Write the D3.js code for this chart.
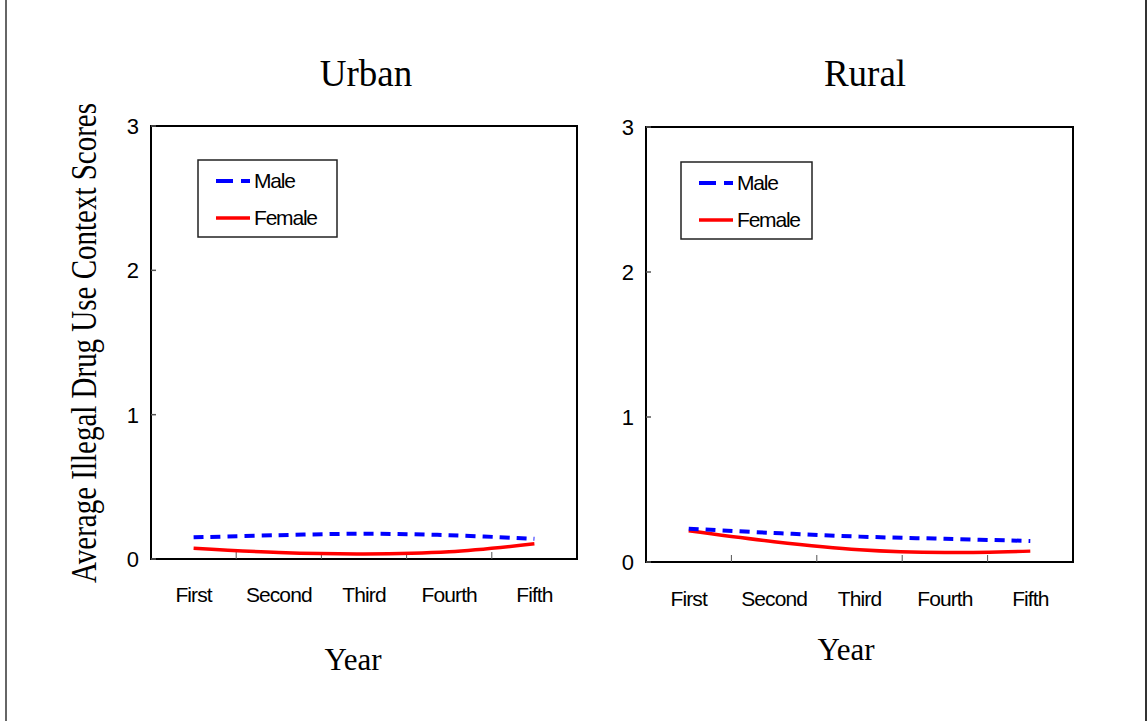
<!DOCTYPE html>
<html>
<head>
<meta charset="utf-8">
<script src="https://cdn.jsdelivr.net/npm/d3@7"></script>
<style>
  body { margin: 0; background: #fff; }
  svg { display: block; }
  .tick-label { font-family: "Liberation Sans", Arial, sans-serif; font-size: 22px; fill: #000; }
  .cat-label { font-family: "Liberation Sans", Arial, sans-serif; font-size: 21px; letter-spacing: -0.9px; fill: #000; }
  .serif { font-family: "Liberation Serif", "Times New Roman", serif; fill: #000; }
  .legend-text { font-family: "Liberation Sans", Arial, sans-serif; font-size: 21px; letter-spacing: -1.2px; fill: #000; }
</style>
</head>
<body>
<script>
// chart data
var years = ['First', 'Second', 'Third', 'Fourth', 'Fifth'];
var yTicks = [0, 1, 2, 3];
var urbanMale = [0.15, 0.165, 0.175, 0.165, 0.14];
var urbanFemale = [0.075, 0.045, 0.035, 0.05, 0.105];
var ruralMale = [0.23, 0.2, 0.175, 0.16, 0.145];
var ruralFemale = [0.215, 0.14, 0.085, 0.065, 0.075];

var W = 1147, H = 721;
var svg = d3.select('body').append('svg').attr('width', W).attr('height', H);

// page frame (left and right edges only)
svg.append('line').attr('x1', 6).attr('x2', 6).attr('y1', 0).attr('y2', H)
    .attr('stroke', '#666').attr('stroke-width', 2);
svg.append('line').attr('x1', 1146).attr('x2', 1146).attr('y1', 0).attr('y2', H)
    .attr('stroke', '#333').attr('stroke-width', 2);

// y axis title, drawn tall and narrow like the original
svg.append('text').attr('class', 'serif')
    .attr('transform', 'translate(96,343) rotate(-90)')
    .attr('text-anchor', 'middle').style('font-size', '35px')
    .attr('textLength', 480).attr('lengthAdjust', 'spacingAndGlyphs')
    .text('Average Illegal Drug Use Context Scores');

var panels = [
  {title: 'Urban', male: urbanMale, female: urbanFemale,
   left: 151, right: 577, top: 126, bottom: 559,
   titleX: 366, titleY: 86, yearX: 353, yearY: 670, catY: 602,
   legend: {x: 198, y: 160, w: 139, h: 77}},
  {title: 'Rural', male: ruralMale, female: ruralFemale,
   left: 646, right: 1073, top: 127, bottom: 562,
   titleX: 865, titleY: 86, yearX: 846, yearY: 660, catY: 606,
   legend: {x: 681, y: 162, w: 131, h: 77}}
];

panels.forEach(function(p) {
  var x = d3.scaleBand().domain(years).range([p.left, p.right]);
  var y = d3.scaleLinear().domain([0, 3]).range([p.bottom, p.top]);
  var g = svg.append('g');

  // title
  g.append('text').attr('class', 'serif').attr('x', p.titleX).attr('y', p.titleY)
      .attr('text-anchor', 'middle').style('font-size', '37px').text(p.title);

  // plot frame
  g.append('rect').attr('x', p.left).attr('y', p.top)
      .attr('width', p.right - p.left).attr('height', p.bottom - p.top)
      .attr('fill', 'none').attr('stroke', '#000').attr('stroke-width', 2);

  // y ticks (inside) and labels
  g.selectAll('.ytick').data(yTicks).enter().append('line')
      .attr('x1', p.left).attr('x2', p.left + 5)
      .attr('y1', function(d) { return y(d); }).attr('y2', function(d) { return y(d); })
      .attr('stroke', '#555').attr('stroke-width', 1.5);
  g.selectAll('.ylab').data(yTicks).enter().append('text')
      .attr('class', 'tick-label').attr('text-anchor', 'end')
      .attr('x', p.left - 12).attr('y', function(d) { return y(d); })
      .attr('dy', '0.36em').text(function(d) { return d; });

  // x ticks between categories, pointing up
  g.selectAll('.xtick').data(years.slice(1)).enter().append('line')
      .attr('x1', function(d) { return x(d); }).attr('x2', function(d) { return x(d); })
      .attr('y1', p.bottom).attr('y2', p.bottom - 7)
      .attr('stroke', '#555').attr('stroke-width', 1);
  g.selectAll('.xlab').data(years).enter().append('text')
      .attr('class', 'cat-label').attr('text-anchor', 'middle')
      .attr('x', function(d) { return x(d) + x.bandwidth() / 2; })
      .attr('y', p.catY).text(function(d) { return d; });

  g.append('text').attr('class', 'serif').attr('x', p.yearX).attr('y', p.yearY)
      .attr('text-anchor', 'middle').style('font-size', '31px').text('Year');

  var line = d3.line()
      .x(function(d, i) { return x(years[i]) + x.bandwidth() / 2; })
      .y(function(d) { return y(d); })
      .curve(d3.curveCatmullRom);

  g.append('path').attr('d', line(p.female)).attr('fill', 'none')
      .attr('stroke', '#ff0000').attr('stroke-width', 3.5);
  g.append('path').attr('d', line(p.male)).attr('fill', 'none')
      .attr('stroke', '#0000ff').attr('stroke-width', 4)
      .attr('stroke-dasharray', '10,7');

  // legend
  var L = p.legend;
  var lg = g.append('g');
  lg.append('rect').attr('x', L.x).attr('y', L.y).attr('width', L.w).attr('height', L.h)
      .attr('fill', '#fff').attr('stroke', '#222').attr('stroke-width', 1.5);
  var items = [
    {name: 'Male', color: '#0000ff', dash: '17,8', w: 4},
    {name: 'Female', color: '#ff0000', dash: null, w: 3.5}
  ];
  items.forEach(function(it, i) {
    var cy = L.y + 21 + i * 37;
    lg.append('line').attr('x1', L.x + 18).attr('x2', L.x + 52)
        .attr('y1', cy).attr('y2', cy)
        .attr('stroke', it.color).attr('stroke-width', it.w)
        .attr('stroke-dasharray', it.dash);
    lg.append('text').attr('class', 'legend-text')
        .attr('x', L.x + 56).attr('y', cy).attr('dy', '0.35em').text(it.name);
  });
});
</script>
</body>
</html>
